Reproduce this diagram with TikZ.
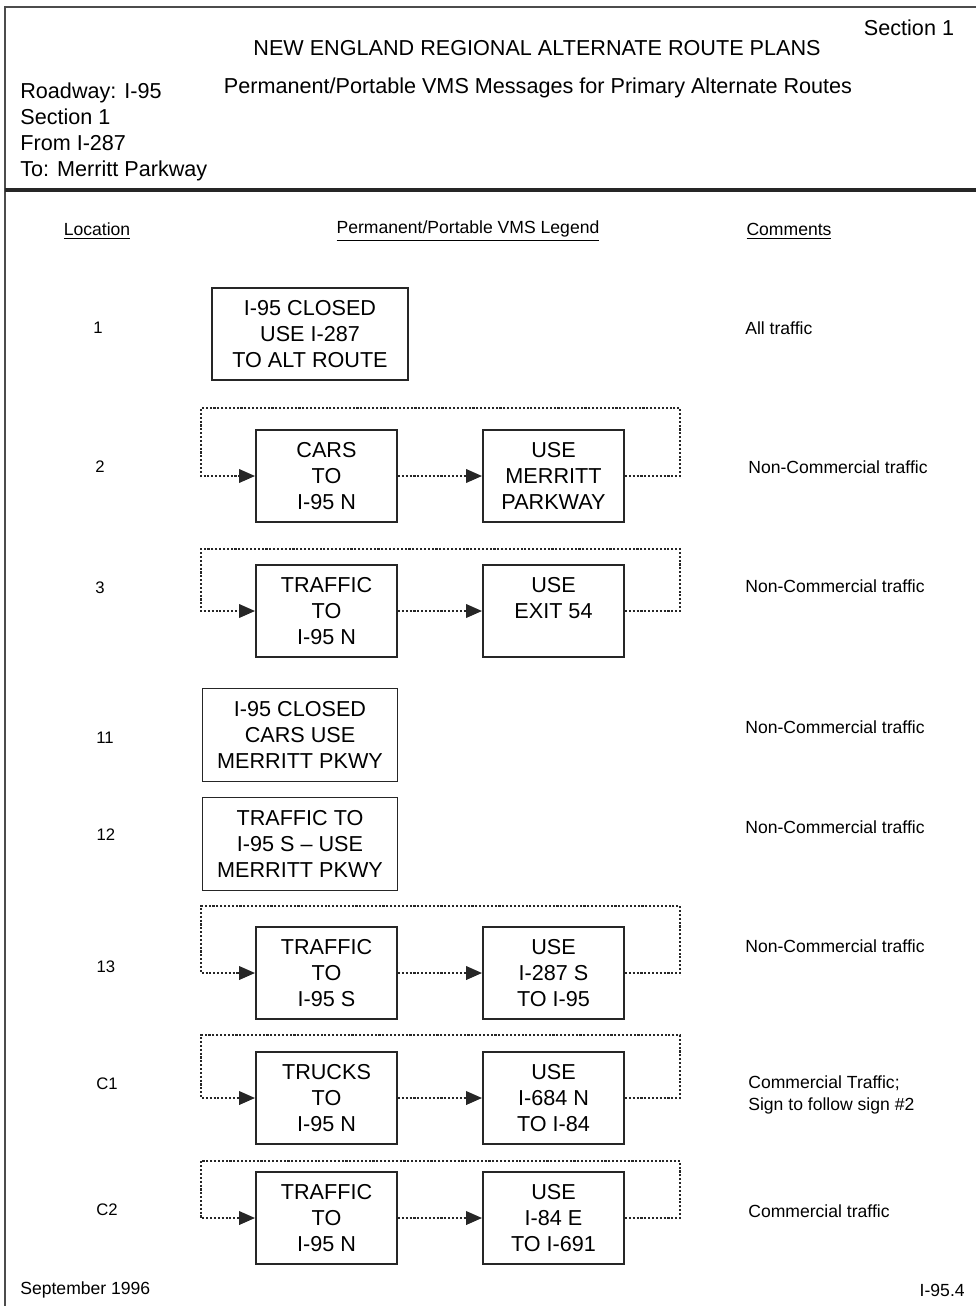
\documentclass[tikz,border=0pt]{standalone}
\usepackage{fontspec}
\setmainfont{Liberation Sans}
\usetikzlibrary{arrows.meta}

\begin{document}
\begin{tikzpicture}[x=0.02cm,y=-0.02cm,
  sign/.style={draw=black!85,line width=1.1pt,align=center,minimum width=2.82cm,minimum height=1.84cm,inner sep=0pt,font=\fontsize{12.3}{14.8}\selectfont},
  wide sign/.style={sign,minimum width=3.9cm,minimum height=1.86cm},
  loop line/.style={draw=black!85,densely dotted,line width=1.2pt},
  tip/.style={-{Triangle[length=0.32cm,width=0.27cm]}},
  head/.style={font=\fontsize{12.3}{14.8}\selectfont,inner sep=0pt},
  small/.style={font=\fontsize{10}{11}\selectfont,inner sep=0pt},
  loc/.style={font=\fontsize{9.5}{11}\selectfont,inner sep=0pt},
  comment/.style={small,anchor=west,align=left}]

\useasboundingbox (0,0) rectangle (976,1306);

% page frame and rule
\draw[black!70,line width=0.8pt] (5,1306) -- (5,7) -- (976,7);
\draw[black!85,line width=1.8pt] (5,190) -- (976,190);

% header
\node at (909,28) [head] (sect) {Section 1};
\node at (537,48) [head] (title) {NEW ENGLAND REGIONAL ALTERNATE ROUTE PLANS};
\node at (538,88) [head] (subtitle) {Permanent/Portable VMS Messages for Primary Alternate Routes};
\node at (20,132) [head,anchor=west,align=left] (road) {Roadway: I-95\\Section 1\\From I-287\\To: Merritt Parkway};

% column titles
\node at (97,231) [small] (colloc) {\underline{Location}};
\node at (468,231) [small] (colsign) {\underline{Permanent/Portable VMS Legend}};
\node at (789,231) [small] (colcom) {\underline{Comments}};

% location 1
\node at (98,328) [loc] (L1) {1};
\node at (310,334) [wide sign,minimum width=3.92cm,minimum height=1.84cm] (S1) {I-95 CLOSED\\USE I-287\\TO ALT ROUTE};
\node at (745,328) [comment] (C1text) {All traffic};

% location 2
\node at (100,467) [loc] (L2) {2};
\node at (326.5,476) [sign] (S2a) {CARS\\TO\\I-95 N};
\node at (553.5,476) [sign] (S2b) {USE\\MERRITT\\PARKWAY};
\coordinate (T2r) at (680,408);
\coordinate (T2l) at (201,408);
\draw[loop line,tip] (S2a) -- (S2b);
\draw[loop line,tip] (S2b.east) -| (T2r) -- (T2l) |- (S2a.west);
\node at (748,467) [comment] (C2text) {Non-Commercial traffic};

% location 3
\node at (100,588) [loc] (L3) {3};
\node at (326.5,611) [sign] (S3a) {TRAFFIC\\TO\\I-95 N};
\node at (553.5,611) [sign] (S3b) {USE\\EXIT 54\\\phantom{I-95 N}};
\coordinate (T3r) at (680,549);
\coordinate (T3l) at (201,549);
\draw[loop line,tip] (S3a) -- (S3b);
\draw[loop line,tip] (S3b.east) -| (T3r) -- (T3l) |- (S3a.west);
\node at (745,586) [comment] (C3text) {Non-Commercial traffic};

% location 11
\node at (105,738) [loc] (L11) {11};
\node at (300,735) [wide sign] (S11) {I-95 CLOSED\\CARS USE\\MERRITT PKWY};
\node at (745,727) [comment] (C11text) {Non-Commercial traffic};

% location 12
\node at (106,835) [loc] (L12) {12};
\node at (300,844) [wide sign] (S12) {TRAFFIC TO\\I-95 S -- USE\\MERRITT PKWY};
\node at (745,827) [comment] (C12text) {Non-Commercial traffic};

% location 13
\node at (106,967) [loc] (L13) {13};
\node at (326.5,973) [sign] (S13a) {TRAFFIC\\TO\\I-95 S};
\node at (553.5,973) [sign] (S13b) {USE\\I-287 S\\TO I-95};
\coordinate (T13r) at (680,906);
\coordinate (T13l) at (201,906);
\draw[loop line,tip] (S13a) -- (S13b);
\draw[loop line,tip] (S13b.east) -| (T13r) -- (T13l) |- (S13a.west);
\node at (745,946) [comment] (C13text) {Non-Commercial traffic};

% location C1
\node at (107,1084) [loc] (LC1) {C1};
\node at (326.5,1098) [sign] (SC1a) {TRUCKS\\TO\\I-95 N};
\node at (553.5,1098) [sign] (SC1b) {USE\\I-684 N\\TO I-84};
\coordinate (TC1r) at (680,1035);
\coordinate (TC1l) at (201,1035);
\draw[loop line,tip] (SC1a) -- (SC1b);
\draw[loop line,tip] (SC1b.east) -| (TC1r) -- (TC1l) |- (SC1a.west);
\node at (748,1095) [comment,font=\fontsize{10}{12.5}\selectfont] (CC1text) {Commercial Traffic;\\Sign to follow sign \#2};

% location C2
\node at (107,1210) [loc] (LC2) {C2};
\node at (326.5,1218) [sign] (SC2a) {TRAFFIC\\TO\\I-95 N};
\node at (553.5,1218) [sign] (SC2b) {USE\\I-84 E\\TO I-691};
\coordinate (TC2r) at (680,1161);
\coordinate (TC2l) at (201,1161);
\draw[loop line,tip] (SC2a) -- (SC2b);
\draw[loop line,tip] (SC2b.east) -| (TC2r) -- (TC2l) |- (SC2a.west);
\node at (748,1211) [comment] (CC2text) {Commercial traffic};

% footer
\node at (20,1290) [small,anchor=west] (date) {September 1996};
\node at (965,1290) [small,anchor=east] (page) {I-95.4};
\end{tikzpicture}
\end{document}
